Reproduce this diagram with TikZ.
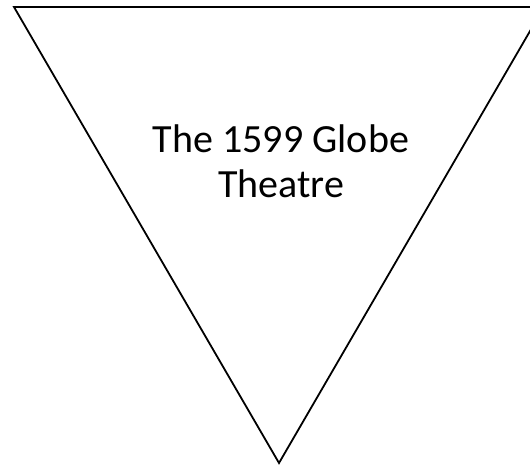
\documentclass[tikz,border=0pt]{standalone}
\usepackage{fontspec}
\setmainfont{Carlito}
\begin{document}
\begin{tikzpicture}[x=1bp,y=-1bp,
  tri/.style={draw=black,line width=1.8bp,line join=miter},
  lbl/.style={font=\fontsize{40bp}{45bp}\selectfont,align=center,inner sep=0pt,anchor=base}]
\useasboundingbox (0,0) rectangle (530,466);
\clip (0,0) rectangle (530,466);
\coordinate (tl) at (14,7);
\coordinate (tr) at (544,7);
\coordinate (ap) at (279,463);
\draw[tri] (tl) -- (tr) -- (ap) -- cycle;
\node[lbl] (t1) at (281,153) {The 1599 Globe};
\node[lbl] (t2) at (281,198) {Theatre};
\end{tikzpicture}
\end{document}
